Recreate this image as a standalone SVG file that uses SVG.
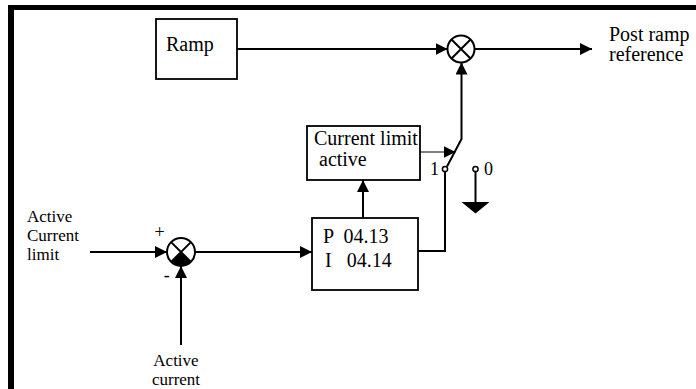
<svg xmlns="http://www.w3.org/2000/svg" width="696" height="389" viewBox="0 0 696 389">
<style>
text{font-family:"Liberation Serif","Times New Roman",serif;font-size:20px;fill:#000}
.lbl{font-size:17px}
.box{fill:#fff;stroke:#000;stroke-width:1.8}
.ln{fill:none;stroke:#000;stroke-width:2}
.thin{fill:none;stroke:#000;stroke-width:1.2}
.sum{fill:#fff;stroke:#000;stroke-width:2}
</style>
<defs>
<marker id="ah" markerUnits="userSpaceOnUse" markerWidth="12" markerHeight="12" refX="12" refY="6" orient="auto">
<path d="M0,0 L12,6 L0,12 z" fill="#000"/>
</marker>
</defs>
<rect width="696" height="389" fill="#fff"/>
<g id="border">
<rect x="8" y="5" width="688" height="5" fill="#000"/>
<rect x="8" y="5" width="6" height="384" fill="#000"/>
</g>
<g id="connectors">
<path class="ln" d="M237,49 H447.5" marker-end="url(#ah)"/>
<path class="ln" d="M474.5,49 H592" marker-end="url(#ah)"/>
<path class="ln" d="M418,251 H445 V171.5"/>
<path class="ln" d="M447,166.5 L461.5,139 V62.5" marker-end="url(#ah)"/>
<path class="thin" d="M420,152 H455.5" marker-end="url(#ah)"/>
<path class="ln" d="M363,218 V180" marker-end="url(#ah)"/>
<path class="ln" d="M90,252 H167" marker-end="url(#ah)"/>
<path class="ln" d="M195,252 H312" marker-end="url(#ah)"/>
<path class="ln" d="M181,345 V266" marker-end="url(#ah)"/>
<path class="ln" d="M475.5,171.5 V202"/>
</g>
<g id="ramp">
<rect class="box" x="156" y="19" width="81" height="60"/>
<text x="166" y="51">Ramp</text>
</g>
<g id="mult">
<circle class="sum" cx="461" cy="49" r="13.5"/>
<path class="ln" d="M451.5,39.5 L470.5,58.5 M470.5,39.5 L451.5,58.5"/>
</g>
<g id="output">
<text x="609" y="41">Post ramp</text>
<text x="609" y="61">reference</text>
</g>
<g id="currlimit">
<rect class="box" x="307" y="126" width="113" height="54"/>
<text x="314" y="145">Current limit</text>
<text x="319" y="166">active</text>
</g>
<g id="pi">
<rect class="box" x="312" y="218" width="106" height="72"/>
<text x="323" y="243" xml:space="preserve">P  04.13</text>
<text x="325" y="267" xml:space="preserve">I   04.14</text>
</g>
<g id="switch">
<circle cx="445" cy="169" r="2.6" fill="#fff" stroke="#000" stroke-width="1.5"/>
<circle cx="475.5" cy="169" r="2.6" fill="#fff" stroke="#000" stroke-width="1.5"/>
<text x="430" y="175" style="font-size:18px">1</text>
<text x="484" y="175" style="font-size:18px">0</text>
</g>
<g id="ground">
<polygon points="461.5,202 489.5,202 475.5,213.5" fill="#000"/>
</g>
<g id="summer">
<circle class="sum" cx="181" cy="252" r="14"/>
<path d="M181,252 L171.1,261.9 A14,14 0 0 0 190.9,261.9 Z" fill="#000"/>
<path class="ln" d="M171.1,242.1 L190.9,261.9 M190.9,242.1 L171.1,261.9"/>
<text x="159.5" y="238" text-anchor="middle" style="font-size:18px">+</text>
<text x="166.7" y="281" text-anchor="middle" style="font-size:18px">-</text>
</g>
<g id="in-limit">
<text class="lbl" x="27" y="222">Active</text>
<text class="lbl" x="27" y="241">Current</text>
<text class="lbl" x="27" y="260">limit</text>
</g>
<g id="in-current">
<text class="lbl" x="176" y="366" text-anchor="middle">Active</text>
<text class="lbl" x="176" y="385" text-anchor="middle">current</text>
</g>
</svg>
